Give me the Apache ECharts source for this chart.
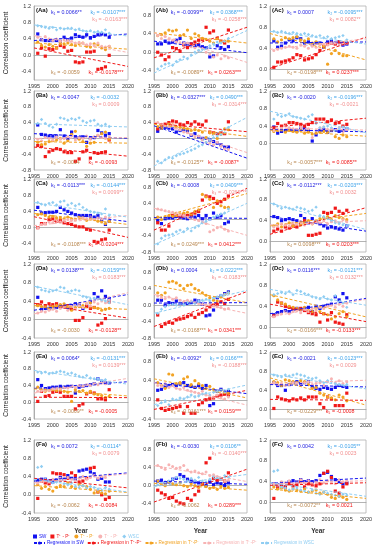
<!DOCTYPE html>
<html><head><meta charset="utf-8">
<script src="https://cdn.jsdelivr.net/npm/echarts@6/dist/echarts.min.js"></script>
<style>html,body{margin:0;padding:0;background:#fff}#c{width:380px;height:550px}</style>
</head><body><div id="c"></div>
<script>
const years = [1996,1997,1998,1999,2000,2001,2002,2003,2004,2005,2006,2007,2008,2009,2010,2011,2012,2013,2014,2015];
const names = ['SW','T⁺ - P⁺','T⁺ - P⁻','T⁻ - P⁺','WSC'];
const regNames = ['Regression in SW','Regression in T⁺-P⁺','Regression in T⁺-P⁻','Regression in T⁻-P⁺','Regression in WSC'];
const panelIds = ['Aa','Ab','Ac','Ba','Bb','Bc','Ca','Cb','Cc','Da','Db','Dc','Ea','Eb','Ec','Fa','Fb','Fc'];
const yMin = [-0.6,-0.6,-0.2, -0.8,-0.8,-0.6, -0.6,-0.8,-0.2, -0.4,-0.8,-0.2, -0.4,-0.4,-0.2, -0.4,-0.6,-0.2];
const yMax = [1.2,1.0,1.2, 1.2,1.2,1.2, 1.2,1.0,1.2, 1.2,1.0,1.2, 1.2,1.0,1.2, 1.2,1.0,1.2];
const yLabelFrom = [-0.4,-0.4,0, -0.8,-0.8,0, -0.4,-0.8,0, -0.4,-0.8,0, -0.4,-0.4,0, -0.4,-0.4,0];

// series order in every panel: SW, T+-P+ (red), T+-P- (orange), T--P+ (pink), WSC
const Aa_SW=[0.52,0.38,0.36,0.36,0.36,0.36,0.34,0.44,0.38,0.42,0.50,0.46,0.44,0.50,0.42,0.46,0.50,0.52,0.50,0.44];
const Aa_R=[0.05,0.18,-0.02,0.16,0.14,0.18,0.24,0.20,0.10,0.12,-0.16,-0.18,-0.16,0.08,0.08,0.10,-0.34,-0.32,-0.28,0.00];
const Aa_O=[0.32,0.24,0.20,0.26,0.22,0.18,0.30,0.28,0.30,0.26,0.24,0.28,0.30,0.22,0.20,0.28,0.26,0.18,0.14,0.22];
const Aa_P=[0.44,0.38,0.46,0.40,0.36,0.40,0.34,0.38,0.36,0.34,0.30,0.32,0.30,0.26,0.28,0.24,0.30,0.22,0.20,0.22];
const Aa_W=[0.72,0.70,0.68,0.66,0.68,0.62,0.66,0.64,0.66,0.66,0.62,0.64,0.60,0.58,0.60,0.56,0.58,0.56,0.62,0.54];
const Aa_fit=[[0.36,0.52],[0.18,-0.27],[0.30,0.15],[0.48,0.07],[0.74,0.47]];
const Aa_k=['0.0066**','-0.0107***','-0.0163***','-0.0059','-0.0178***'];

const Ab_SW=[0.18,0.18,0.24,0.20,0.22,0.26,0.30,0.20,0.18,0.18,0.14,0.16,0.12,0.10,-0.10,-0.08,0.14,0.10,0.06,0.12];
const Ab_R=[0.00,-0.06,-0.16,-0.10,0.10,0.08,0.02,0.16,0.10,0.18,0.22,0.26,0.28,0.54,0.42,0.46,0.30,0.24,0.20,0.48];
const Ab_O=[0.36,0.38,0.42,0.48,0.46,0.48,0.36,0.38,0.48,0.30,0.40,0.36,0.30,0.28,0.24,0.20,0.30,0.22,0.24,0.24];
const Ab_P=[0.36,0.30,0.34,0.28,0.26,0.22,0.20,0.18,0.20,0.12,0.10,0.04,0.08,0.00,-0.04,-0.10,-0.06,-0.14,-0.08,-0.12];
const Ab_W=[-0.36,-0.30,-0.26,-0.24,-0.28,-0.20,-0.16,-0.10,-0.14,-0.06,0.00,0.04,0.06,0.10,0.14,0.18,0.22,0.20,0.24,0.30];
const Ab_fit=[[0.24,-0.01],[-0.12,0.54],[0.42,0.20],[0.42,-0.22],[-0.45,0.47]];
const Ab_k=['-0.0099**','0.0368***','-0.0258***','-0.0089**','0.0263***'];

const Ac_SW=[0.54,0.42,0.44,0.50,0.56,0.54,0.60,0.58,0.50,0.52,0.48,0.50,0.50,0.42,0.52,0.54,0.50,0.52,0.46,0.48];
const Ac_R=[0.04,0.14,0.14,0.16,0.18,0.22,0.28,0.26,0.18,0.20,0.22,0.28,0.36,0.44,0.48,0.50,0.48,0.52,0.50,0.50];
const Ac_O=[0.58,0.52,0.56,0.60,0.58,0.60,0.62,0.56,0.54,0.58,0.50,0.52,0.48,0.44,0.10,0.30,0.36,0.30,0.26,0.26];
const Ac_P=[0.36,0.38,0.40,0.42,0.44,0.42,0.40,0.46,0.44,0.40,0.44,0.42,0.46,0.48,0.46,0.50,0.50,0.46,0.48,0.50];
const Ac_W=[0.72,0.70,0.72,0.70,0.68,0.70,0.68,0.66,0.68,0.66,0.64,0.62,0.64,0.60,0.62,0.58,0.60,0.62,0.64,0.56];
const Ac_fit=[[0.50,0.52],[0.02,0.61],[0.68,0.18],[0.38,0.58],[0.72,0.48]];
const Ac_k=['0.0007','-0.0095***','0.0082**','-0.0198***','0.0237***'];

const Ba_SW=[0.34,0.10,0.08,0.06,0.06,0.06,0.22,0.06,0.00,0.16,0.04,0.02,0.04,-0.10,0.00,0.02,0.20,0.14,0.08,0.12];
const Ba_R=[-0.18,-0.20,-0.46,-0.34,-0.30,-0.26,-0.28,-0.34,-0.36,-0.36,-0.58,-0.52,-0.34,-0.30,-0.50,-0.36,-0.38,-0.36,-0.34,-0.04];
const Ba_O=[-0.10,-0.16,-0.14,-0.08,-0.06,-0.04,0.00,-0.12,-0.06,0.10,0.18,-0.02,-0.08,-0.20,-0.12,-0.10,0.08,0.12,0.16,-0.02];
const Ba_P=[-0.02,-0.06,0.02,0.00,-0.04,0.04,-0.02,0.00,0.04,0.06,-0.04,0.02,0.00,0.06,-0.02,0.04,0.08,0.02,0.00,0.04];
const Ba_W=[0.38,0.48,0.38,0.32,0.28,0.36,0.52,0.50,0.46,0.50,0.48,0.52,0.44,0.40,0.44,0.46,0.36,0.32,0.36,0.30];
const Ba_fit=[[0.12,0.00],[-0.22,-0.45],[-0.08,-0.12],[0.00,0.02],[0.37,0.29]];
const Ba_k=['-0.0047','-0.0032','0.0009','-0.0014','-0.0093'];

const Bb_SW=[0.18,0.26,0.28,0.26,0.24,0.16,0.20,0.22,0.18,0.08,0.12,0.04,0.00,0.00,-0.04,-0.08,-0.12,-0.16,-0.22,-0.22];
const Bb_R=[0.24,0.34,0.36,0.40,0.44,0.42,0.36,0.34,0.40,0.36,0.42,0.36,0.34,0.44,0.16,0.14,0.12,0.14,0.12,0.42];
const Bb_O=[0.30,0.26,0.32,0.36,0.34,0.30,0.28,0.26,0.24,0.20,0.22,0.20,0.16,0.02,0.14,0.12,0.00,0.10,0.24,0.22];
const Bb_P=[0.40,0.36,0.32,0.30,0.34,0.26,0.22,0.16,0.14,0.10,0.04,0.06,-0.04,-0.10,-0.12,-0.16,-0.10,-0.20,-0.26,-0.28];
const Bb_W=[-0.58,-0.62,-0.54,-0.48,-0.50,-0.44,-0.40,-0.38,-0.34,-0.30,-0.26,-0.20,-0.16,-0.10,-0.04,0.02,0.06,0.10,0.14,0.28];
const Bb_fit=[[0.32,-0.50],[0.38,0.17],[0.36,0.05],[0.42,-0.36],[-0.70,0.53]];
const Bb_k=['-0.0327***','0.0490***','-0.0314***','-0.0125**','-0.0087*'];

const Bc_SW=[0.38,0.24,0.28,0.30,0.32,0.30,0.30,0.36,0.34,0.30,0.06,0.20,0.30,0.32,0.26,0.30,0.32,0.28,0.30,0.34];
const Bc_R=[0.36,0.46,0.40,0.42,0.48,0.48,0.46,0.44,0.40,0.44,0.48,0.56,0.56,0.56,0.50,0.54,0.46,0.48,0.40,0.44];
const Bc_O=[0.28,0.30,0.32,0.26,0.30,0.28,0.26,0.30,0.24,0.26,0.22,0.24,0.26,0.28,0.26,0.30,0.16,0.12,0.20,0.16];
const Bc_P=[0.30,0.32,0.36,0.40,0.36,0.34,0.32,0.38,0.30,0.34,0.14,0.30,0.36,0.38,0.32,0.34,0.30,0.36,0.28,0.32];
const Bc_W=[0.56,0.66,0.62,0.64,0.68,0.62,0.60,0.58,0.56,0.62,0.66,0.46,0.36,0.38,0.40,0.36,0.30,0.34,0.38,0.36];
const Bc_fit=[[0.32,0.27],[0.37,0.58],[0.31,0.17],[0.36,0.31],[0.74,0.25]];
const Bc_k=['-0.0020','-0.0196***','-0.0021','-0.0057***','0.0085**'];

const Ca_SW=[0.50,0.36,0.36,0.38,0.38,0.40,0.50,0.44,0.40,0.36,0.32,0.30,0.30,0.30,0.30,0.26,0.30,0.18,0.08,0.16];
const Ca_R=[0.00,0.10,0.10,0.20,0.22,0.16,0.18,0.12,0.10,0.08,0.04,0.02,0.02,-0.04,-0.06,-0.34,-0.36,-0.30,-0.28,-0.06];
const Ca_O=[0.32,0.34,0.30,0.26,0.28,0.24,0.24,0.22,0.26,0.22,0.20,0.26,0.24,0.18,0.22,0.20,0.16,0.14,0.10,0.16];
const Ca_P=[0.00,0.08,0.10,0.14,0.12,0.16,0.14,0.18,0.20,0.18,0.20,0.22,0.24,0.22,0.26,0.20,0.24,0.22,0.26,0.24];
const Ca_W=[0.62,0.58,0.56,0.60,0.62,0.56,0.64,0.66,0.56,0.60,0.54,0.58,0.50,0.44,0.40,0.38,0.36,0.34,0.46,0.30];
const Ca_fit=[[0.43,0.15],[0.27,-0.24],[0.35,0.08],[0.05,0.30],[0.62,0.26]];
const Ca_k=['-0.0113***','-0.0144***','0.0099**','-0.0108***','-0.0204***'];

const Cb_SW=[-0.02,-0.10,0.02,0.04,0.04,0.08,0.06,0.04,0.02,0.08,0.06,0.10,0.02,0.10,0.02,0.16,0.06,0.10,-0.10,-0.06];
const Cb_R=[-0.08,-0.26,-0.26,-0.16,0.10,0.10,0.08,0.12,0.10,0.12,0.16,0.20,0.48,0.58,0.56,0.52,0.40,0.44,0.50,0.58];
const Cb_O=[0.06,0.00,0.06,0.10,0.08,0.10,0.14,0.16,0.18,0.14,0.20,0.24,0.62,0.56,0.50,0.30,0.46,0.34,0.30,0.30];
const Cb_P=[0.26,0.24,0.22,0.20,0.18,0.16,0.12,0.10,0.06,0.04,0.00,-0.02,-0.06,-0.10,-0.30,-0.26,-0.20,-0.18,-0.24,-0.28];
const Cb_W=[-0.60,-0.46,-0.40,-0.38,-0.36,-0.30,-0.26,-0.30,-0.22,-0.28,-0.20,-0.16,-0.08,-0.04,0.00,0.06,0.10,0.14,0.16,0.26];
const Cb_fit=[[0.05,0.03],[-0.26,0.77],[0.02,0.64],[0.28,-0.39],[-0.62,0.40]];
const Cb_k=['-0.0008','0.0409***','-0.0269***','0.0249***','0.0412***'];

const Cc_SW=[0.48,0.46,0.40,0.42,0.44,0.42,0.40,0.50,0.44,0.36,0.44,0.38,0.34,0.30,0.26,0.28,0.26,0.24,0.22,0.30];
const Cc_R=[0.20,0.24,0.20,0.28,0.26,0.30,0.28,0.34,0.40,0.12,0.12,0.14,0.16,0.56,0.54,0.56,0.64,0.58,0.54,0.60];
const Cc_O=[0.30,0.34,0.28,0.32,0.36,0.30,0.34,0.32,0.36,0.40,0.34,0.38,0.44,0.46,0.48,0.42,0.50,0.46,0.44,0.42];
const Cc_P=[0.28,0.30,0.34,0.32,0.30,0.36,0.34,0.38,0.32,0.36,0.34,0.38,0.36,0.40,0.34,0.38,0.40,0.36,0.42,0.38];
const Cc_W=[0.72,0.68,0.64,0.66,0.64,0.62,0.66,0.64,0.62,0.58,0.60,0.66,0.50,0.48,0.44,0.40,0.36,0.34,0.32,0.30];
const Cc_fit=[[0.48,0.20],[0.14,0.65],[0.30,0.54],[0.32,0.40],[0.74,0.23]];
const Cc_k=['-0.0112***','-0.0203***','0.0032','0.0098***','0.0203***'];

const Da_SW=[0.48,0.22,0.24,0.24,0.26,0.26,0.28,0.28,0.26,0.30,0.34,0.32,0.24,0.30,0.38,0.56,0.48,0.62,0.50,0.44];
const Da_R=[0.32,0.38,0.30,0.34,0.32,0.34,0.30,0.28,0.30,0.22,-0.02,-0.02,0.04,0.28,0.24,0.26,-0.12,-0.08,0.02,0.38];
const Da_O=[0.30,0.28,0.26,0.24,0.28,0.30,0.32,0.34,0.28,0.20,0.26,0.28,0.30,0.34,0.36,0.26,0.24,0.20,0.22,0.24];
const Da_P=[0.14,0.18,0.16,0.20,0.22,0.18,0.24,0.26,0.20,0.28,0.24,0.30,0.26,0.34,0.30,0.38,0.34,0.40,0.36,0.42];
const Da_W=[0.70,0.64,0.62,0.60,0.62,0.64,0.70,0.68,0.60,0.62,0.64,0.62,0.50,0.48,0.44,0.46,0.44,0.42,0.40,0.36];
const Da_fit=[[0.20,0.54],[0.35,0.03],[0.30,0.22],[0.12,0.58],[0.72,0.32]];
const Da_k=['0.0138***','-0.0159***','0.0183***','-0.0030','-0.0128**'];

const Db_SW=[0.12,0.12,0.00,0.06,0.04,0.10,0.04,0.04,0.04,0.06,0.12,0.10,0.02,-0.26,-0.24,-0.12,0.18,0.22,0.28,0.32];
const Db_R=[-0.24,-0.52,-0.46,-0.42,-0.44,-0.36,-0.34,-0.32,-0.28,-0.24,-0.30,-0.22,-0.18,-0.12,-0.04,0.00,0.02,0.08,0.04,0.14];
const Db_O=[0.30,0.24,0.30,0.56,0.58,0.54,0.48,0.40,0.48,0.50,0.40,0.36,0.30,0.24,0.18,0.12,0.10,0.20,0.26,0.30];
const Db_P=[0.22,0.18,0.16,0.20,0.14,0.18,0.12,0.08,0.12,0.10,0.06,0.04,0.02,0.00,0.04,-0.02,-0.04,-0.06,-0.10,-0.08];
const Db_W=[-0.20,-0.10,-0.04,0.00,0.02,0.00,0.04,0.02,0.06,0.08,0.04,0.10,0.12,0.14,0.10,0.18,0.20,0.24,0.26,0.30];
const Db_fit=[[0.05,0.06],[-0.52,0.33],[0.48,0.06],[0.26,-0.20],[-0.20,0.36]];
const Db_k=['0.0004','0.0222***','-0.0183***','-0.0168***','0.0341***'];

const Dc_SW=[0.24,0.28,0.30,0.32,0.30,0.34,0.36,0.34,0.36,0.38,0.30,0.40,0.36,0.40,0.42,0.44,0.58,0.52,0.64,0.56];
const Dc_R=[0.22,0.48,0.46,0.40,0.38,0.36,0.34,0.36,0.32,0.28,0.26,0.24,0.10,0.26,0.14,0.28,0.10,0.08,0.06,0.24];
const Dc_O=[0.60,0.52,0.46,0.44,0.40,0.38,0.36,0.34,0.38,0.32,0.30,0.36,0.30,0.26,0.24,0.16,0.20,0.26,0.30,0.20];
const Dc_P=[0.20,0.24,0.26,0.30,0.26,0.30,0.32,0.28,0.34,0.30,0.36,0.32,0.38,0.36,0.40,0.42,0.38,0.44,0.40,0.46];
const Dc_W=[0.62,0.64,0.66,0.64,0.68,0.62,0.70,0.68,0.64,0.62,0.58,0.56,0.54,0.58,0.54,0.52,0.60,0.48,0.46,0.38];
const Dc_fit=[[0.26,0.55],[0.44,0.11],[0.62,0.20],[0.20,0.53],[0.72,0.42]];
const Dc_k=['0.0116***','-0.0121***','0.0132***','-0.0166***','-0.0133***'];

const Ea_SW=[0.54,0.40,0.32,0.34,0.36,0.36,0.38,0.36,0.38,0.38,0.22,0.36,0.38,0.40,0.42,0.44,0.56,0.50,0.46,0.46];
const Ea_R=[0.02,0.26,0.14,0.16,0.24,0.26,0.24,0.14,0.14,0.14,-0.16,-0.08,-0.04,0.20,0.24,0.22,0.08,0.08,0.06,0.30];
const Ea_O=[0.36,0.30,0.26,0.28,0.30,0.28,0.32,0.26,0.24,0.02,0.30,0.26,0.28,0.22,0.26,0.20,0.18,0.16,0.12,0.14];
const Ea_P=[0.26,0.28,0.30,0.28,0.32,0.34,0.30,0.36,0.34,0.38,0.36,0.40,0.38,0.42,0.40,0.44,0.42,0.46,0.44,0.48];
const Ea_W=[0.72,0.70,0.72,0.68,0.70,0.72,0.74,0.72,0.68,0.70,0.66,0.62,0.60,0.64,0.58,0.56,0.56,0.52,0.54,0.46];
const Ea_fit=[[0.33,0.49],[0.12,0.11],[0.32,0.15],[0.22,0.57],[0.76,0.43]];
const Ea_k=['0.0064*','-0.0131***','0.0139***','-0.0069**','-0.0005'];

const Eb_SW=[0.20,0.22,0.28,0.30,0.32,0.30,0.34,0.36,0.30,0.28,0.26,0.30,0.24,0.30,-0.12,-0.08,0.18,0.22,0.14,0.18];
const Eb_R=[0.00,-0.18,-0.22,-0.20,-0.18,-0.16,-0.14,-0.28,-0.14,-0.28,-0.28,-0.10,-0.06,0.00,0.02,0.04,0.08,0.10,0.12,0.10];
const Eb_O=[0.36,0.30,0.24,0.54,0.52,0.34,0.36,0.44,0.48,0.32,0.40,0.34,0.30,0.24,0.28,0.22,0.18,0.20,0.16,0.14];
const Eb_P=[0.30,0.28,0.34,0.26,0.30,0.24,0.22,0.26,0.20,0.18,0.16,0.14,0.18,0.10,0.08,0.06,0.10,0.04,0.02,0.06];
const Eb_W=[-0.12,-0.06,-0.02,-0.10,0.02,0.00,0.04,0.02,0.06,0.10,0.06,0.08,0.12,0.14,0.10,0.16,0.18,0.20,0.16,0.22];
const Eb_fit=[[0.36,0.13],[-0.20,0.20],[0.44,0.04],[0.36,-0.11],[-0.10,0.31]];
const Eb_k=['-0.0092*','0.0166***','-0.0188***','-0.0161***','0.0159***'];

const Ec_SW=[0.56,0.50,0.50,0.40,0.52,0.56,0.58,0.54,0.56,0.58,0.48,0.44,0.42,0.46,0.44,0.42,0.46,0.50,0.48,0.46];
const Ec_R=[0.02,0.26,0.22,0.20,0.18,0.22,0.20,0.24,0.20,0.26,0.26,0.26,0.12,0.04,0.26,0.22,0.08,0.08,0.08,0.34];
const Ec_O=[0.58,0.56,0.50,0.62,0.60,0.58,0.56,0.60,0.58,0.52,0.44,0.46,0.34,0.30,0.26,0.24,0.20,0.30,0.26,0.18];
const Ec_P=[0.56,0.52,0.54,0.50,0.52,0.56,0.54,0.50,0.56,0.58,0.52,0.54,0.56,0.50,0.58,0.64,0.56,0.60,0.54,0.58];
const Ec_W=[0.72,0.70,0.68,0.72,0.70,0.72,0.74,0.72,0.70,0.66,0.64,0.66,0.60,0.56,0.60,0.58,0.54,0.52,0.50,0.52];
const Ec_fit=[[0.52,0.47],[0.21,0.19],[0.66,0.09],[0.54,0.61],[0.74,0.43]];
const Ec_k=['-0.0021','-0.0123***','0.0029','-0.0229***','-0.0008'];

const Fa_SW=[0.32,0.34,0.34,0.30,0.28,0.32,0.38,0.34,0.42,0.36,0.34,0.52,0.54,0.56,0.50,0.46,0.34,0.36,0.28,0.28];
const Fa_R=[-0.08,0.30,0.26,0.24,0.48,0.46,0.46,0.44,0.36,0.48,0.42,0.28,0.30,0.36,0.58,0.60,0.06,0.00,-0.10,-0.06];
const Fa_O=[0.22,0.14,0.18,0.12,0.08,0.16,0.20,0.18,0.26,0.18,0.14,0.22,0.20,0.18,0.12,0.04,0.06,0.04,0.02,0.08];
const Fa_P=[0.26,0.30,0.32,0.28,0.34,0.30,0.36,0.32,0.38,0.34,0.30,0.36,0.40,0.34,0.38,0.42,0.36,0.40,0.38,0.44];
const Fa_W=[0.60,0.62,0.34,0.30,0.26,0.28,0.30,0.24,0.22,0.26,0.18,0.16,0.20,0.14,0.18,0.16,0.12,0.10,0.16,0.12];
const Fa_fit=[[0.30,0.48],[0.36,0.15],[0.20,0.05],[0.26,0.46],[0.34,0.06]];
const Fa_k=['0.0072','-0.0114*','0.0079','-0.0062','-0.0084'];

const Fb_SW=[0.10,0.12,0.06,0.08,0.14,0.16,0.24,0.20,0.14,0.10,0.08,0.06,0.04,0.00,0.08,0.02,0.06,0.04,0.00,0.06];
const Fb_R=[-0.10,-0.16,-0.20,-0.28,-0.26,-0.34,-0.38,-0.40,-0.28,-0.32,-0.20,-0.12,0.04,0.50,0.60,0.16,0.12,0.14,0.10,0.28];
const Fb_O=[0.10,0.04,0.00,0.08,0.04,0.02,0.06,0.00,-0.02,0.04,0.00,-0.04,0.02,-0.02,-0.06,-0.04,-0.08,-0.02,-0.06,-0.04];
const Fb_P=[0.44,0.40,0.36,0.46,0.42,0.38,0.40,0.44,0.34,0.30,0.32,0.28,0.26,0.30,0.22,0.24,0.20,0.14,0.10,0.12];
const Fb_W=[0.02,0.06,0.08,0.10,0.14,0.18,0.16,0.14,0.10,0.16,0.12,0.18,0.10,0.08,0.14,0.20,0.16,0.14,0.22,0.18];
const Fb_fit=[[0.10,0.03],[-0.36,0.36],[0.05,-0.10],[0.44,0.09],[-0.02,0.245]];
const Fb_k=['-0.0030','0.0106**','-0.0140***','-0.0062','0.0289***'];

const Fc_SW=[0.36,0.34,0.38,0.30,0.40,0.42,0.40,0.44,0.40,0.42,0.40,0.42,0.52,0.56,0.58,0.50,0.44,0.40,0.36,0.38];
const Fc_R=[0.08,0.28,0.34,0.30,0.36,0.32,0.34,0.40,0.30,0.36,0.34,0.32,0.36,0.56,0.60,0.48,0.22,0.18,0.30,0.36];
const Fc_O=[0.30,0.26,0.28,0.24,0.22,0.26,0.24,0.22,0.26,0.20,0.22,0.24,0.18,0.20,0.16,0.10,0.08,0.12,0.10,0.06];
const Fc_P=[0.36,0.34,0.40,0.38,0.42,0.36,0.40,0.44,0.38,0.42,0.36,0.40,0.44,0.38,0.42,0.40,0.36,0.44,0.40,0.42];
const Fc_W=[0.60,0.62,0.30,0.28,0.24,0.26,0.28,0.24,0.22,0.20,0.24,0.18,0.16,0.20,0.18,0.16,0.14,0.12,0.16,0.14];
const Fc_fit=[[0.37,0.47],[0.33,0.38],[0.26,0.08],[0.36,0.42],[0.38,0.12]];
const Fc_k=['0.0042','-0.0105**','0.0023','-0.0072**','0.0021'];

const panelSeries = {
  Aa:[Aa_SW,Aa_R,Aa_O,Aa_P,Aa_W], Ab:[Ab_SW,Ab_R,Ab_O,Ab_P,Ab_W], Ac:[Ac_SW,Ac_R,Ac_O,Ac_P,Ac_W],
  Ba:[Ba_SW,Ba_R,Ba_O,Ba_P,Ba_W], Bb:[Bb_SW,Bb_R,Bb_O,Bb_P,Bb_W], Bc:[Bc_SW,Bc_R,Bc_O,Bc_P,Bc_W],
  Ca:[Ca_SW,Ca_R,Ca_O,Ca_P,Ca_W], Cb:[Cb_SW,Cb_R,Cb_O,Cb_P,Cb_W], Cc:[Cc_SW,Cc_R,Cc_O,Cc_P,Cc_W],
  Da:[Da_SW,Da_R,Da_O,Da_P,Da_W], Db:[Db_SW,Db_R,Db_O,Db_P,Db_W], Dc:[Dc_SW,Dc_R,Dc_O,Dc_P,Dc_W],
  Ea:[Ea_SW,Ea_R,Ea_O,Ea_P,Ea_W], Eb:[Eb_SW,Eb_R,Eb_O,Eb_P,Eb_W], Ec:[Ec_SW,Ec_R,Ec_O,Ec_P,Ec_W],
  Fa:[Fa_SW,Fa_R,Fa_O,Fa_P,Fa_W], Fb:[Fb_SW,Fb_R,Fb_O,Fb_P,Fb_W], Fc:[Fc_SW,Fc_R,Fc_O,Fc_P,Fc_W]
};
const panelFit = {Aa:Aa_fit,Ab:Ab_fit,Ac:Ac_fit,Ba:Ba_fit,Bb:Bb_fit,Bc:Bc_fit,Ca:Ca_fit,Cb:Cb_fit,Cc:Cc_fit,
  Da:Da_fit,Db:Db_fit,Dc:Dc_fit,Ea:Ea_fit,Eb:Eb_fit,Ec:Ec_fit,Fa:Fa_fit,Fb:Fb_fit,Fc:Fc_fit};
const panelK = {Aa:Aa_k,Ab:Ab_k,Ac:Ac_k,Ba:Ba_k,Bb:Bb_k,Bc:Bc_k,Ca:Ca_k,Cb:Cb_k,Cc:Cc_k,
  Da:Da_k,Db:Db_k,Dc:Dc_k,Ea:Ea_k,Eb:Eb_k,Ec:Ec_k,Fa:Fa_k,Fb:Fb_k,Fc:Fc_k};

// ---- styling / layout ----
const FONT = 'Liberation Sans, Arial, sans-serif';
const colors = ['#1212f0','#f01818','#f2a323','#f7b3b3','#8fcdf2'];
const symbols = ['rect','rect','circle','circle','diamond'];
const symSize = [3.2,3.2,3.2,3,3.4];
const kColors = ['#2424e0','#3da2ea','#f29090','#b8864e','#f01818']; // k1..k5
const kSub = ['₁','₂','₃','₄','₅'];
const cols = [{l:34,w:94},{l:154,w:93},{l:270,w:96}];
const rows = [{t:6,b:80},{t:91,b:170},{t:179,b:252},{t:264,b:338},{t:352,b:419},{t:440,b:513}];

const grids=[], xAxes=[], yAxes=[], series=[], graphics=[];
panelIds.forEach((id,i)=>{
  const c=i%3, r=Math.floor(i/3);
  const L=cols[c].l, W=cols[c].w, T=rows[r].t, B=rows[r].b;
  grids.push({left:L, top:T, width:W, height:B-T, show:true, borderColor:'#b0b0b0', borderWidth:0.8, backgroundColor:'transparent'});
  const xa = {gridIndex:i, type:'value', min:1995, max:2020, interval:5,
    axisLine:{show:true, lineStyle:{color:'#a0a0a0', width:0.8}}, axisTick:{show:false}, splitLine:{show:false},
    axisLabel:{fontSize:5.5, color:'#333', margin:3, fontFamily:FONT, formatter:v=>String(v)}};
  if (r===5) { xa.name='Year'; xa.nameLocation='middle'; xa.nameGap=15;
    xa.nameTextStyle={fontSize:6.5, fontWeight:'bold', color:'#333', fontFamily:FONT}; }
  xAxes.push(xa);
  const from = yLabelFrom[i];
  const ya = {gridIndex:i, type:'value', min:yMin[i], max:yMax[i], interval:0.2,
    axisLine:{show:true, lineStyle:{color:'#a0a0a0', width:0.8}}, axisTick:{show:false}, splitLine:{show:false},
    axisLabel:{fontSize:5.5, color:'#333', margin:3, fontFamily:FONT, formatter:v=>{
      const q=v/0.4; if (Math.abs(q-Math.round(q))>1e-6 || v<from-1e-6) return '';
      const s=(Math.round(v*10)/10).toFixed(1); return s==='-0.0'?'0.0':s; }}};
  if (c===0) { ya.name='Correlation coefficient'; ya.nameLocation='middle'; ya.nameGap=24;
    ya.nameTextStyle={fontSize:6.5, color:'#222', fontFamily:FONT}; }
  yAxes.push(ya);
  const data = panelSeries[id], fit = panelFit[id];
  [4,3,2,1,0].forEach(s=>{
    series.push({type:'scatter', name:names[s], xAxisIndex:i, yAxisIndex:i, symbol:symbols[s], symbolSize:symSize[s],
      itemStyle:{color:colors[s], opacity:1}, silent:true, z:2+s,
      data: years.map((y,j)=>[y,data[s][j]])});
  });
  [4,3,2,1,0].forEach(s=>{
    series.push({type:'line', name:regNames[s], xAxisIndex:i, yAxisIndex:i, showSymbol:false, symbol:'none', silent:true, z:8+s,
      lineStyle:{color:colors[s], width:1, type:[3,2]}, itemStyle:{color:colors[s]},
      data:[[1995,fit[s][0]],[2020,fit[s][1]]]});
  });
  graphics.push({type:'text', left:L+2, top:T+1.5, z:50, style:{text:'('+id+')', fill:'#111', fontSize:6, fontWeight:'bold', fontFamily:FONT}});
  const ks = panelK[id];
  const pos = [[0.18,T+4],[0.6,T+4],[0.62,T+11.5],[0.18,B-10],[0.58,B-10]];
  ks.forEach((k,n)=>{
    graphics.push({type:'text', left:L+pos[n][0]*W, top:pos[n][1], z:50,
      style:{text:'k'+kSub[n]+' = '+k, fill:kColors[n], fontSize:5.3, fontFamily:FONT}});
  });
});

const chart = echarts.init(document.getElementById('c'), null, {renderer:'canvas'});
chart.setOption({
  animation:false,
  backgroundColor:'#fff',
  grid:grids, xAxis:xAxes, yAxis:yAxes, series:series, graphic:graphics,
  legend:[
    {left:33, top:534, itemWidth:4, itemHeight:4, itemGap:4, selectedMode:false, padding:0,
     textStyle:{fontSize:4.6, fontFamily:FONT, padding:[0,0,0,-3]},
     data:names.map((n,s)=>({name:n, textStyle:{color:colors[s]}}))},
    {left:33, top:540.5, itemWidth:11, itemHeight:4, itemGap:3, selectedMode:false, padding:0,
     textStyle:{fontSize:4.6, fontFamily:FONT, padding:[0,0,0,-3]},
     data:regNames.map((n,s)=>({name:n, textStyle:{color:colors[s]}}))}
  ]
});
</script></body></html>
